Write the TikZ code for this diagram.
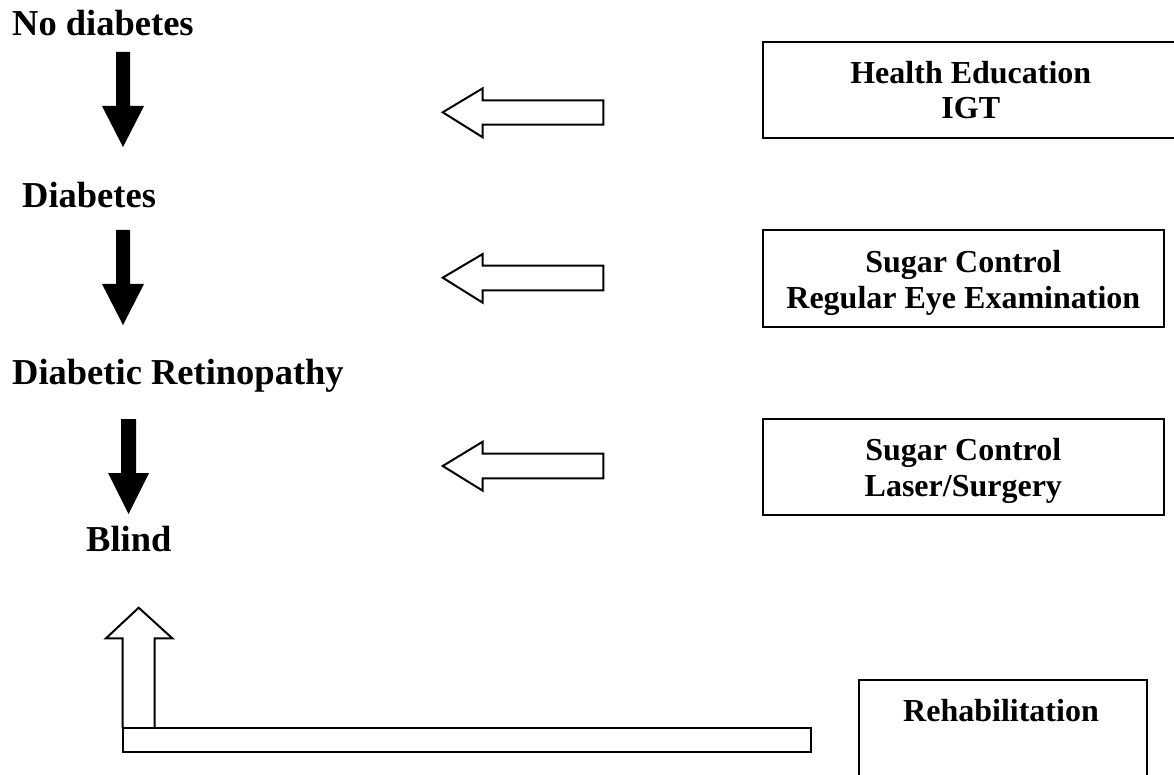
\documentclass[tikz,border=0pt]{standalone}
\usepackage{fontspec}
\setmainfont{Liberation Serif}
\begin{document}
\begin{tikzpicture}[x=1pt,y=-1pt,
  stage/.style={anchor=base west,inner sep=0pt,font=\bfseries\fontsize{36.5}{40}\selectfont},
  boxtext/.style={anchor=base,inner sep=0pt,font=\bfseries\fontsize{32}{36}\selectfont},
  boxframe/.style={draw=black,line width=2pt},
  downarrow/.style={fill=black,draw=none},
  openarrow/.style={draw=black,line width=2pt,fill=white,line join=miter}]
\useasboundingbox[fill=white] (0,0) rectangle (1174,775);

% stages
\node[stage] (nd) at (12,36) {No diabetes};
\node[stage] (d) at (22,207.5) {Diabetes};
\node[stage] (dr) at (12,384) {Diabetic Retinopathy};
\node[stage] (bl) at (86,551.5) {Blind};

% black down arrows
\fill[downarrow] (116,52) -- (130,52) -- (130,106) -- (144,106) -- (123,147) -- (102,106) -- (116,106) -- cycle;
\fill[downarrow] (116,230) -- (130,230) -- (130,284) -- (144,284) -- (123,325) -- (102,284) -- (116,284) -- cycle;
\fill[downarrow] (121,419) -- (136,419) -- (136,473) -- (149,473) -- (128.5,514) -- (108,473) -- (121,473) -- cycle;

% open left arrows
\draw[openarrow] (603.3,100.3) -- (603.3,124.7) -- (482.7,124.7) -- (482.7,137.3) -- (442.7,112.3) -- (482.7,88.3) -- (482.7,100.3) -- cycle;
\draw[openarrow] (603.3,265.7) -- (603.3,290.3) -- (482.7,290.3) -- (482.7,302.7) -- (442.7,277.7) -- (482.7,254) -- (482.7,265.7) -- cycle;
\draw[openarrow] (603.3,453.7) -- (603.3,478.3) -- (482.7,478.3) -- (482.7,490.7) -- (442.7,466) -- (482.7,441.7) -- (482.7,453.7) -- cycle;

% boxes
\node[boxframe,inner sep=0pt,minimum width=416.3pt,minimum height=96.3pt] (b1) at (970.8,89.85) {};
\node[boxtext] (b1a) at (970.8,83.3) {Health Education};
\node[boxtext] (b1b) at (970.8,119) {IGT};

\node[boxframe,inner sep=0pt,minimum width=401.3pt,minimum height=96.7pt] (b2) at (963.3,278.35) {};
\node[boxtext] (b2a) at (963.3,272.7) {Sugar Control};
\node[boxtext] (b2b) at (963.3,308.3) {Regular Eye Examination};

\node[boxframe,inner sep=0pt,minimum width=401.3pt,minimum height=96pt] (b3) at (963.3,467) {};
\node[boxtext] (b3a) at (963.3,460) {Sugar Control};
\node[boxtext] (b3b) at (963.3,496) {Laser/Surgery};

\node[boxframe,inner sep=0pt,minimum width=288.6pt,minimum height=120pt] (b4) at (1003,740) {};
\node[boxtext] (b4a) at (1001,721.7) {Rehabilitation};

% rehabilitation L-shaped open arrow
\draw[openarrow] (122.7,728) -- (122.7,638.3) -- (106,638.3) -- (138.7,607.7) -- (172.3,638.3) -- (154.7,638.3) -- (154.7,728);
\draw[openarrow] (122.7,728) rectangle (811,752.3);
\end{tikzpicture}
\end{document}
